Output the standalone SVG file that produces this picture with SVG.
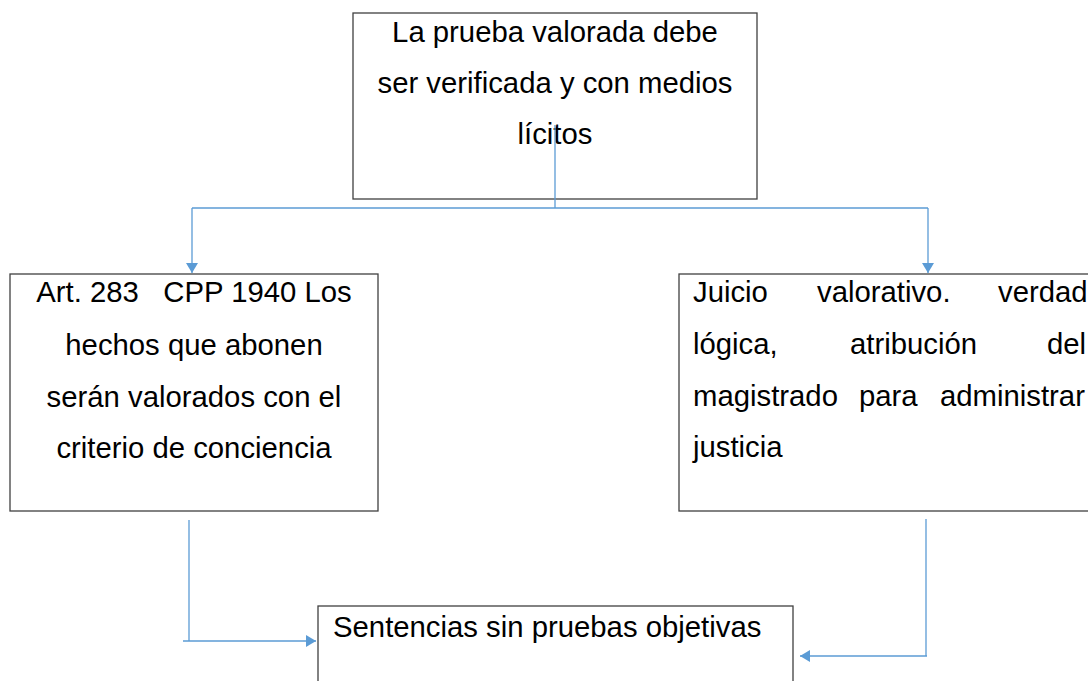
<svg xmlns="http://www.w3.org/2000/svg" width="1088" height="681" viewBox="0 0 1088 681">
<style>
.box{fill:#fff;stroke:#404040;stroke-width:1.3}
.t{font-family:"Liberation Sans",Arial,sans-serif;font-size:29.3px;fill:#000;white-space:pre}
.c{text-anchor:middle}
.ln{fill:none;stroke:#5B9BD5;stroke-width:1.3}
</style>
<defs>
<marker id="ah" markerUnits="userSpaceOnUse" markerWidth="12" markerHeight="12" viewBox="0 0 10 12" refX="10" refY="6" orient="auto">
<path d="M0,0 L10,6 L0,12 z" fill="#5B9BD5"/>
</marker>
</defs>
<rect width="1088" height="681" fill="#fff"/>
<g id="n-top">
<rect class="box" x="353" y="13" width="404" height="186"/>
<text class="t c" x="555" y="42">La prueba valorada debe</text>
<text class="t c" x="555" y="93">ser verificada y con medios</text>
<text class="t c" x="555" y="144">lícitos</text>
</g>
<g id="n-left">
<rect class="box" x="10" y="274" width="368" height="237"/>
<text class="t c" x="194" y="302">Art. 283   CPP 1940 Los</text>
<text class="t c" x="194" y="355">hechos que abonen</text>
<text class="t c" x="194" y="407">serán valorados con el</text>
<text class="t c" x="194" y="458">criterio de conciencia</text>
</g>
<g id="n-right">
<rect class="box" x="679" y="274" width="420" height="237"/>
<text class="t" y="302"><tspan x="693">Juicio</tspan><tspan x="817">valorativo.</tspan><tspan x="998">verdad</tspan></text>
<text class="t" y="354"><tspan x="693">lógica,</tspan><tspan x="850">atribución</tspan><tspan x="1047">del</tspan></text>
<text class="t" y="406"><tspan x="693">magistrado</tspan><tspan x="859">para</tspan><tspan x="940">administrar</tspan></text>
<text class="t" y="457"><tspan x="693">justicia</tspan></text>
</g>
<g id="n-bottom">
<rect class="box" x="318" y="606" width="475" height="90"/>
<text class="t" x="333" y="637">Sentencias sin pruebas objetivas</text>
</g>
<g id="connectors">
<line class="ln" x1="555" y1="125" x2="555" y2="208"/>
<line class="ln" x1="192" y1="208" x2="928" y2="208"/>
<path class="ln" d="M192,208 V273" marker-end="url(#ah)"/>
<path class="ln" d="M928,208 V273" marker-end="url(#ah)"/>
<line class="ln" x1="189" y1="520" x2="189" y2="641"/>
<path class="ln" d="M183,641 H316" marker-end="url(#ah)"/>
<line class="ln" x1="926" y1="519" x2="926" y2="656"/>
<path class="ln" d="M927,656 H800" marker-end="url(#ah)"/>
</g>
</svg>
